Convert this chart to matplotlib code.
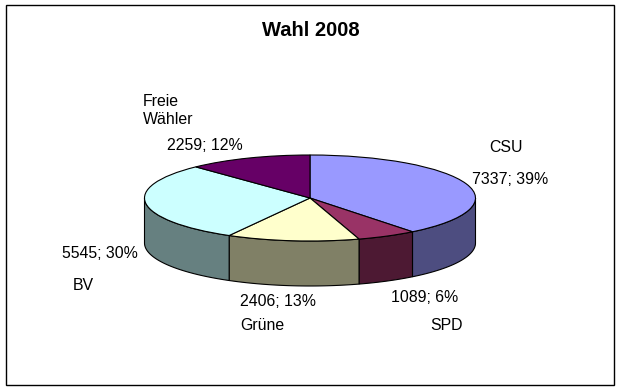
import numpy as np
import matplotlib
matplotlib.use('Agg')
import matplotlib.pyplot as plt
from matplotlib.patches import Rectangle

plt.rcParams['font.family'] = ['Liberation Sans', 'DejaVu Sans']

# values
parties = ['CSU', 'SPD', 'Grüne', 'BV', 'Freie\nWähler']
votes = [7337, 1089, 2406, 5545, 2259]
top_colors = ['#9999FF', '#993366', '#FFFFCC', '#CCFFFF', '#660066']
side_colors = ['#4D4D80', '#4D1933', '#808066', '#668080', '#330033']

# label positions in pixels (left, vertical centre)
name_pos = [(489, 147), (430, 325), (240, 326), (73, 286), (143, 110.5)]
value_pos = [(472, 180), (391, 297), (240, 301), (62, 253), (167, 145)]

W, H = 620, 390
cx, cy = 310, 198
rx, ry = 165.5, 43
depth = 45 / ry

fig = plt.figure(figsize=(W / 100, H / 100), dpi=100)
ax = fig.add_axes([0, 0, 1, 1])

# top of the pie
wedges, _ = ax.pie(votes, colors=top_colors, startangle=90, counterclock=False,
                   radius=1, wedgeprops={'edgecolor': 'black', 'linewidth': 0.8, 'zorder': 3})
ax.set_aspect('auto')
ax.set_xlim(-cx / rx, (W - cx) / rx)
ax.set_ylim((cy - H) / ry, cy / ry)
ax.axis('off')

# side wall, only the part facing the viewer
total = sum(votes)
edges = np.cumsum([0] + votes) / total * 2 * np.pi
for i in range(len(votes)):
    a = max(edges[i], np.pi / 2)
    b = min(edges[i + 1], 3 * np.pi / 2)
    if a >= b:
        continue
    t = np.linspace(a, b, 80)
    x = np.sin(t)
    y = np.cos(t)
    ax.fill(np.r_[x, x[::-1]], np.r_[y, y[::-1] - depth], facecolor=side_colors[i],
            edgecolor='black', linewidth=0.8, zorder=2, clip_on=False)

# frame
fig.add_artist(Rectangle((5.5 / W, 1 - 385 / H), 608.5 / W, 380 / H, transform=fig.transFigure,
                         fill=False, edgecolor='black', linewidth=1.0))

fig.text(311 / W, 1 - 31 / H, 'Wahl 2008', fontsize=14.5, fontweight='bold',
         ha='center', va='center', color='black')

for i in range(len(votes)):
    pct = round(votes[i] / total * 100)
    nx, ny = name_pos[i]
    vx, vy = value_pos[i]
    fig.text(nx / W, 1 - ny / H, parties[i], fontsize=11.4, ha='left', va='center',
             linespacing=1.32, color='black')
    fig.text(vx / W, 1 - vy / H, f'{votes[i]}; {pct}%', fontsize=11.4, ha='left', va='center',
             color='black')

fig.savefig('out.png', dpi=100)
